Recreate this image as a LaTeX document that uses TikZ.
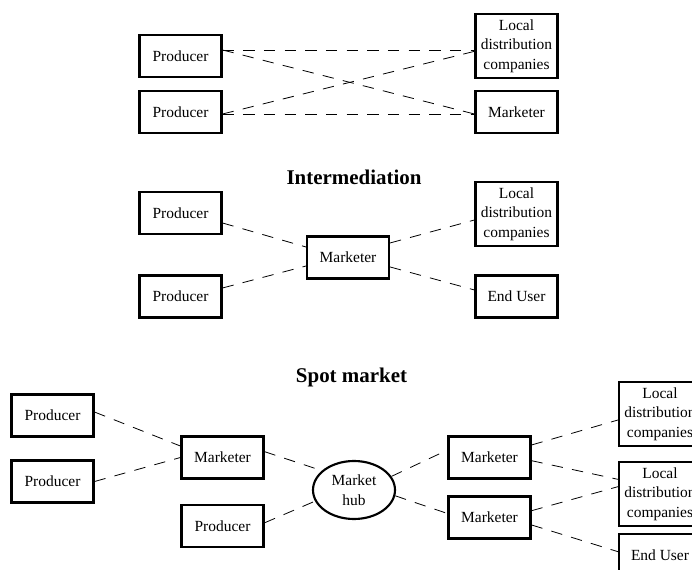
\documentclass[tikz,border=0pt]{standalone}
\usepackage{fontspec}
\setmainfont{Liberation Serif}
\usepackage{tikz}
\usetikzlibrary{positioning, shapes.geometric, arrows, calc}

\begin{document}
\begin{tikzpicture}[x=0.75pt, y=-0.75pt,
    box/.style={draw, line width=1.6pt, minimum width=61.5pt, minimum height=31.5pt,
        inner sep=1pt, align=center, font=\fontsize{11.6}{14.6}\selectfont},
    ldcbox/.style={box, minimum height=48pt},
    hubnode/.style={draw, ellipse, line width=1.6pt, minimum width=61.5pt, minimum height=43.5pt,
        inner sep=0pt, align=center, font=\fontsize{11.6}{14.6}\selectfont},
    link/.style={line width=0.6pt, dash pattern=on 8.5pt off 7pt},
    heading/.style={font=\fontsize{15.7}{18}\selectfont\bfseries}]
    \useasboundingbox (0,0) rectangle (692,570);

    % Draw the direct trade
    \node[box] (prodA) at (180.5,56) {Producer};
    \node[box] (prodB) at (180.5,112) {Producer};
    \node[ldcbox] (ldcA) at (516.5,46) {Local\\distribution\\companies};
    \node[box] (mktA) at (516.5,112) {Marketer};
    \draw[link] ([yshift=4.5pt]prodA.east) -- ([yshift=-3pt]ldcA.west);
    \draw[link] ([yshift=4.5pt]prodA.east) -- ([yshift=-1.5pt]mktA.west);
    \draw[link] ([yshift=-1.5pt]prodB.east) -- ([yshift=-4pt]ldcA.west);
    \draw[link] ([yshift=-1.5pt]prodB.east) -- ([yshift=-1.5pt]mktA.west);

    % Draw the intermediation
    \node[heading] (titleB) at (354,177) {Intermediation};
    \node[box] (prodC) at (180.5,213) {Producer};
    \node[box] (prodD) at (180.5,296.5) {Producer};
    \node[box] (mktB) at (348,257.5) {Marketer};
    \node[ldcbox] (ldcB) at (516.5,214) {Local\\distribution\\companies};
    \node[box] (userB) at (516.5,296.5) {End User};
    \draw[link] ([yshift=-7.5pt]prodC.east) -- ([yshift=7.9pt]mktB.west);
    \draw[link] ([yshift=6.4pt]prodD.east) -- ([yshift=-6.4pt]mktB.west);
    \draw[link] ([yshift=10.9pt]mktB.east) -- ([yshift=-4.5pt]ldcB.west);
    \draw[link] ([yshift=-7.1pt]mktB.east) -- ([yshift=4.9pt]userB.west);

    % Draw the spot market
    \node[heading] (titleC) at (351.5,377) {Spot market};
    \node[box] (prodE) at (52.5,415.5) {Producer};
    \node[box] (prodF) at (52.5,481.5) {Producer};
    \node[box] (mktC) at (222.5,457.5) {Marketer};
    \node[box] (prodG) at (222.5,526) {Producer};
    \node[hubnode] (hub) at (354,490) {Market\\hub};
    \node[box] (mktD) at (489.5,457.5) {Marketer};
    \node[box] (mktE) at (489.5,517.5) {Marketer};
    \node[ldcbox] (ldcC) at (660,414) {Local\\distribution\\companies};
    \node[ldcbox] (ldcD) at (660,494) {Local\\distribution\\companies};
    \node[box] (userC) at (660,555) {End User};
    \draw[link] ([yshift=2.6pt]prodE.east) -- ([yshift=8.6pt]mktC.west);
    \draw[link] (prodF.east) -- (mktC.west);
    \draw[link] ([yshift=4.4pt]mktC.east) -- (hub.149);
    \draw[link] ([yshift=2.4pt]prodG.east) -- (hub.196);
    \draw[link] (hub.20) -- ([yshift=5.6pt]mktD.west);
    \draw[link] (hub.352) -- ([yshift=3pt]mktE.west);
    \draw[link] ([yshift=9.4pt]mktD.east) -- ([yshift=-4.5pt]ldcC.west);
    \draw[link] ([yshift=-2.4pt]mktD.east) -- ([yshift=11pt]ldcD.west);
    \draw[link] ([yshift=5.1pt]mktE.east) -- ([yshift=5.5pt]ldcD.west);
    \draw[link] ([yshift=-5.6pt]mktE.east) -- ([yshift=2.5pt]userC.west);
\end{tikzpicture}
\end{document}
